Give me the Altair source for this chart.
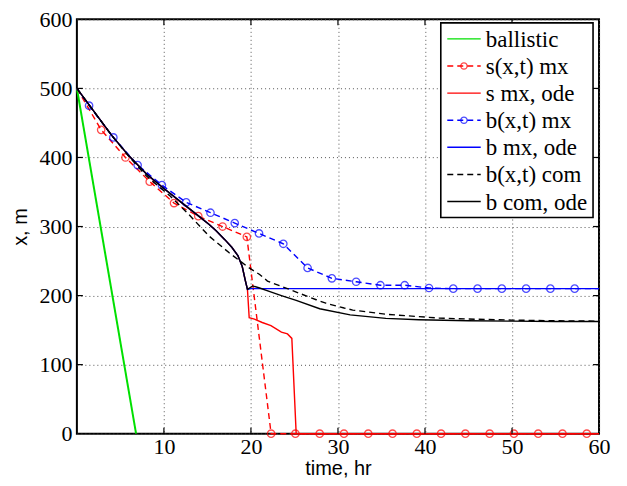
import altair as alt
import pandas as pd

# ---------------- data ----------------
ballistic_t = [0.0, 6.8]
ballistic_x = [500, 0]

# s(x,t) mx : markers (dashed red line passes through them)
s_pde_t = [2.79, 5.58, 8.37, 11.16, 13.95, 16.74, 19.53, 22.32, 25.11, 27.90, 30.69,
           33.48, 36.27, 39.06, 41.85, 44.64, 47.43, 50.22, 53.01, 55.80, 58.59]
s_pde_x = [440, 400, 365, 334, 315, 300, 285, 0, 0, 0, 0,
           0, 0, 0, 0, 0, 0, 0, 0, 0, 0]

# b(x,t) mx : markers (dashed blue line passes through them)
b_pde_t = [1.40, 4.19, 6.98, 9.77, 12.56, 15.35, 18.14, 20.93, 23.72, 26.51, 29.30,
           32.09, 34.88, 37.67, 40.46, 43.25, 46.04, 48.83, 51.62, 54.41, 57.20]
b_pde_x = [475, 429, 389, 360, 335, 320, 305, 290, 275, 240, 225,
           220, 215, 215, 211, 210, 210, 210, 210, 210, 210]

# ODE solutions share the same path until the split at t ~ 19.6 h
ode_common_t = [0, 2, 4, 6, 8, 10, 12, 14, 15.2, 16, 17, 17.8, 18.5, 19.0, 19.35, 19.6]
ode_common_x = [500, 466, 432, 402, 376, 355, 335, 315, 303, 294, 281, 270, 258, 242, 222, 209]

s_ode_tail_t = [19.8, 20.4, 21.3, 22.3, 23.5, 24.2, 24.7, 25.2, 60]
s_ode_tail_x = [168, 166, 161, 156.5, 147, 144.5, 138, 0, 0]

b_ode_tail_t = [20.0, 60]
b_ode_tail_x = [210, 210]

com_ode_tail_t = [20.2, 21, 22.1, 23.5, 25.2, 27.9, 31.4, 35.5, 39.3, 45, 50, 55, 60]
com_ode_tail_x = [214, 211, 206, 200, 193, 181, 172, 167, 165, 163.5, 163, 162.5, 162.5]

# b(x,t) com (dashed black)
com_pde_t = [0, 2, 4, 6, 8, 10.6, 12.9, 15.2, 17.5, 19.8, 21, 21.9, 24.4, 27.5, 28.6,
             30.7, 31.7, 35.5, 39.3, 41.6, 45, 50, 55, 60]
com_pde_x = [500, 466, 432, 401, 373, 345.5, 317, 286, 262, 240, 230.6, 221, 209, 194, 189,
             182, 179, 173, 169.5, 167.5, 166, 164.5, 163.5, 163]

x_ticks = [10, 20, 30, 40, 50, 60]
y_ticks = [0, 100, 200, 300, 400, 500, 600]

legend_labels = ["ballistic", "s(x,t) mx", "s mx, ode", "b(x,t) mx",
                 "b mx, ode", "b(x,t) com", "b com, ode"]
legend_colors = ["#00e000", "#ff0000", "#ff0000", "#0000ff", "#0000ff", "#000000", "#000000"]
legend_dashes = [[1, 0], [6, 4], [1, 0], [6, 4], [1, 0], [6, 4], [1, 0]]
legend_marker_labels = ["s(x,t) mx", "b(x,t) mx"]

# ---------------- layout ----------------
W, H = 523, 415
TOP = 11
GREEN, RED, BLUE, BLACK = "#00e000", "#ff0000", "#0000ff", "#000000"
DASH = [6, 4]
SERIF = "Liberation Serif"
SANS = "Liberation Sans"

xs = alt.Scale(domain=[0, 60], nice=False, zero=False)
ys = alt.Scale(domain=[0, 600], nice=False, zero=False)

x_axis = alt.Axis(values=x_ticks, title="time, hr", labelFont=SERIF,
                  labelFontSize=22, labelColor="black", labelFlush=False, labelOverlap=False,
                  ticks=False, tickSize=0, domain=False, grid=True, gridDash=[1, 3],
                  gridColor="#555555", gridWidth=1, labelPadding=3,
                  titleFont=SANS, titleFontSize=20, titleFontWeight="normal",
                  titleColor="black", titlePadding=1)
y_axis = alt.Axis(values=y_ticks, title="x, m", labelFont=SERIF,
                  labelFontSize=22, labelColor="black", labelFlush=False, labelOverlap=False,
                  ticks=False, tickSize=0, domain=False, grid=True, gridDash=[1, 3],
                  gridColor="#555555", gridWidth=1, labelPadding=5,
                  titleFont=SANS, titleFontSize=20, titleFontWeight="normal",
                  titleColor="black", titlePadding=8)


def line_df(t, x):
    return pd.DataFrame({"t": t, "x": x})


def line_layer(df, color, dash=None, width=1.4):
    kw = dict(color=color, strokeWidth=width, clip=False)
    if dash is not None:
        kw["strokeDash"] = dash
    return alt.Chart(df).mark_line(**kw).encode(
        x=alt.X("t:Q", scale=xs, axis=x_axis),
        y=alt.Y("x:Q", scale=ys, axis=y_axis),
        order="t:Q",
    )


def marker_layer(df, color):
    return alt.Chart(df).mark_point(shape="circle", filled=False, color=color, size=55,
                                    strokeWidth=1.3, clip=False).encode(
        x=alt.X("t:Q", scale=xs), y=alt.Y("x:Q", scale=ys))


ballistic = line_layer(line_df(ballistic_t, ballistic_x), GREEN, width=2)
s_pde_line = line_layer(line_df([0] + s_pde_t + [60], [500] + s_pde_x + [0]), RED, DASH)
s_pde_mk = marker_layer(line_df(s_pde_t, s_pde_x), RED)
s_ode = line_layer(line_df(ode_common_t + s_ode_tail_t, ode_common_x + s_ode_tail_x), RED)
b_pde_line = line_layer(line_df([0] + b_pde_t + [60], [500] + b_pde_x + [210]), BLUE, DASH)
b_pde_mk = marker_layer(line_df(b_pde_t, b_pde_x), BLUE)
b_ode = line_layer(line_df(ode_common_t + b_ode_tail_t, ode_common_x + b_ode_tail_x), BLUE)
com_pde = line_layer(line_df(com_pde_t, com_pde_x), BLACK, DASH)
com_ode = line_layer(line_df(ode_common_t + com_ode_tail_t, ode_common_x + com_ode_tail_x), BLACK)

# inward ticks on all four sides (MATLAB style)
ytk = pd.DataFrame({"v": y_ticks[1:-1]})
xtk = pd.DataFrame({"v": x_ticks[:-1]})
tick_kw = dict(color="black", strokeWidth=1.2)
tick_left = alt.Chart(ytk).mark_rule(**tick_kw).encode(
    y=alt.Y("v:Q", scale=ys), x=alt.value(0), x2=alt.value(6))
tick_right = alt.Chart(ytk).mark_rule(**tick_kw).encode(
    y=alt.Y("v:Q", scale=ys), x=alt.value(W - 6), x2=alt.value(W))
tick_bottom = alt.Chart(xtk).mark_rule(**tick_kw).encode(
    x=alt.X("v:Q", scale=xs), y=alt.value(H), y2=alt.value(H - 6))
tick_top = alt.Chart(xtk).mark_rule(**tick_kw).encode(
    x=alt.X("v:Q", scale=xs), y=alt.value(0), y2=alt.value(6))

main = alt.layer(ballistic, s_pde_line, s_pde_mk, s_ode, b_pde_line, b_pde_mk, b_ode,
                 com_pde, com_ode, tick_left, tick_right, tick_bottom, tick_top)

# ---------------- legend (drawn by hand, MATLAB style) ----------------
OFF = 16 - (8 + TOP)  # keep legend at the same page position as the reference
leg_df = pd.DataFrame({"label": legend_labels})
leg_y = alt.Y("label:N", scale=alt.Scale(type="point", domain=legend_labels,
                                         range=[22.5 + OFF, 185.5 + OFF], padding=0), axis=None)
leg_color = alt.Color("label:N", scale=alt.Scale(domain=legend_labels, range=legend_colors),
                      legend=None)
leg_dash = alt.StrokeDash("label:N", scale=alt.Scale(domain=legend_labels, range=legend_dashes),
                          legend=None)

leg_box = alt.Chart(pd.DataFrame({"k": [0]})).mark_rect(
    fill="white", stroke="black", strokeWidth=1.6).encode(
    x=alt.value(364.5), x2=alt.value(517), y=alt.value(6.5 + OFF), y2=alt.value(201.5 + OFF))
leg_lines = alt.Chart(leg_df).mark_rule(strokeWidth=1.4).encode(
    y=leg_y, x=alt.value(371), x2=alt.value(404.5), color=leg_color, strokeDash=leg_dash)
leg_marks = alt.Chart(leg_df).transform_filter(
    alt.FieldOneOfPredicate(field="label", oneOf=legend_marker_labels)
).mark_point(shape="circle", filled=False, size=40, strokeWidth=1.3).encode(
    y=leg_y, x=alt.value(387.7), color=leg_color)
leg_text = alt.Chart(leg_df).mark_text(
    align="left", baseline="middle", font=SERIF, fontSize=23, color="black",
    dy=1).encode(y=leg_y, x=alt.value(409.5), text="label:N")

legend = alt.layer(leg_box, leg_lines, leg_marks, leg_text)

chart = alt.layer(main, legend).resolve_scale(
    x="independent", y="independent", color="independent", strokeDash="independent"
).properties(
    width=W, height=H,
    autosize=alt.AutoSizeParams(type="none"),
    padding={"left": 69, "top": TOP, "right": 20, "bottom": 44},
    background="white",
).configure_view(stroke="black", strokeWidth=2)

chart.save("out.html", embed_options={"renderer": "svg", "actions": False})
